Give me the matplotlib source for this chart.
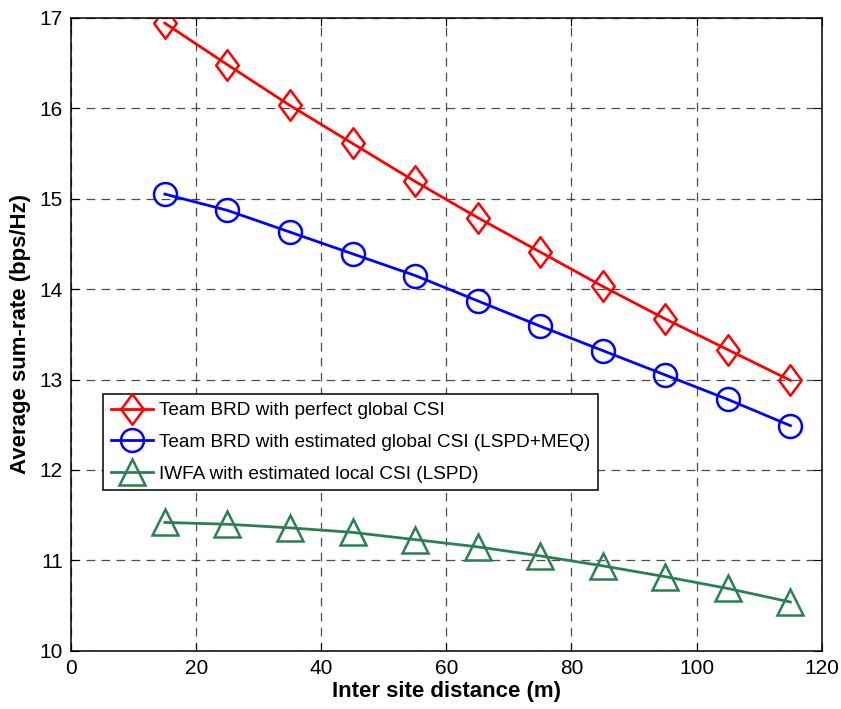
import numpy as np
import matplotlib
matplotlib.use('Agg')
import matplotlib.pyplot as plt
import matplotlib as mpl
from matplotlib.path import Path

mpl.rcParams['font.family'] = ['Liberation Sans', 'DejaVu Sans']
mpl.rcParams['xtick.labelsize'] = 15
mpl.rcParams['ytick.labelsize'] = 15
mpl.rcParams['axes.labelsize'] = 16

# data
distance = [15, 25, 35, 45, 55, 65, 75, 85, 95, 105, 115]
rate_perfect = [16.94, 16.48, 16.03, 15.61, 15.19, 14.79, 14.41, 14.03, 13.67, 13.33, 12.99]
rate_estimated = [15.05, 14.87, 14.63, 14.39, 14.15, 13.87, 13.59, 13.32, 13.05, 12.78, 12.49]
rate_iwfa = [11.42, 11.40, 11.36, 11.31, 11.23, 11.15, 11.05, 10.94, 10.82, 10.69, 10.54]

labels = ['Team BRD with perfect global CSI',
          'Team BRD with estimated global CSI (LSPD+MEQ)',
          'IWFA with estimated local CSI (LSPD)']

x_ticks = [0, 20, 40, 60, 80, 100, 120]
y_ticks = [10, 11, 12, 13, 14, 15, 16, 17]

# MATLAB-style thin diamond
diamond = Path([(0, 1), (0.74, 0), (0, -1), (-0.74, 0), (0, 1)],
               [Path.MOVETO, Path.LINETO, Path.LINETO, Path.LINETO, Path.CLOSEPOLY])

fig = plt.figure(figsize=(8.41, 7.09), dpi=100)
ax = fig.add_axes([0.0845, 0.082, 0.8925, 0.893])

green = '#2a8050'
ax.plot(distance, rate_perfect, color='r', linewidth=2.0, marker=diamond,
        markersize=22, markerfacecolor='none', markeredgewidth=1.8, label=labels[0])
ax.plot(distance, rate_estimated, color='b', linewidth=2.0, marker='o',
        markersize=16.5, markerfacecolor='none', markeredgewidth=1.8, label=labels[1])
ax.plot(distance, rate_iwfa, color=green, linewidth=2.0, marker='^',
        markersize=19, markerfacecolor='none', markeredgewidth=1.8, label=labels[2])

ax.set_xlim(0, 120)
ax.set_ylim(10, 17)
ax.set_xticks(x_ticks)
ax.set_yticks(y_ticks)

ax.grid(True, color='#222222', linestyle=(0, (7, 5)), linewidth=0.9, alpha=0.8)
ax.tick_params(direction='in', top=True, right=True, length=6, width=0.8, pad=6)
for s in ax.spines.values():
    s.set_linewidth(1.1)

ax.set_xlabel('Inter site distance (m)', fontweight='bold', labelpad=2)
ax.set_ylabel('Average sum-rate (bps/Hz)', fontweight='bold', labelpad=6)

leg = ax.legend(loc='upper left', bbox_to_anchor=(0.043, 0.405), borderaxespad=0,
                fontsize=13.7, fancybox=False, framealpha=1.0, edgecolor='k',
                handlelength=2.2, handletextpad=0.35, labelspacing=0.75,
                borderpad=0.4)
leg.get_frame().set_linewidth(1.1)

plt.savefig('out.png', dpi=100)
